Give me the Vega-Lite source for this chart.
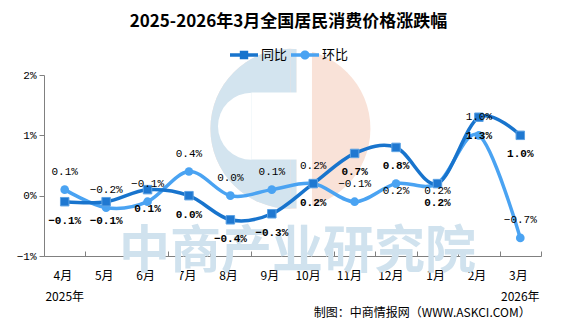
{
  "$schema": "https://vega.github.io/schema/vega-lite/v6.json",
  "width": 497,
  "height": 181,
  "autosize": {"type": "none"},
  "padding": {"left": 44, "top": 75, "right": 35, "bottom": 71},
  "background": "white",
  "title": {
    "text": "2025-2026年3月全国居民消费价格涨跌幅",
    "font": "Noto Sans CJK SC",
    "fontSize": 17,
    "fontWeight": "bold",
    "color": "black",
    "anchor": "middle",
    "offset": 10,
    "dx": -4
  },
  "data": {
    "values": [
      {"月份": "4月", "指标": "同比", "值": -0.001},
      {"月份": "5月", "指标": "同比", "值": -0.001},
      {"月份": "6月", "指标": "同比", "值": 0.001},
      {"月份": "7月", "指标": "同比", "值": 0.0},
      {"月份": "8月", "指标": "同比", "值": -0.004},
      {"月份": "9月", "指标": "同比", "值": -0.003},
      {"月份": "10月", "指标": "同比", "值": 0.002},
      {"月份": "11月", "指标": "同比", "值": 0.007},
      {"月份": "12月", "指标": "同比", "值": 0.008},
      {"月份": "1月", "指标": "同比", "值": 0.002},
      {"月份": "2月", "指标": "同比", "值": 0.013},
      {"月份": "3月", "指标": "同比", "值": 0.010},
      {"月份": "4月", "指标": "环比", "值": 0.001},
      {"月份": "5月", "指标": "环比", "值": -0.002},
      {"月份": "6月", "指标": "环比", "值": -0.001},
      {"月份": "7月", "指标": "环比", "值": 0.004},
      {"月份": "8月", "指标": "环比", "值": 0.0},
      {"月份": "9月", "指标": "环比", "值": 0.001},
      {"月份": "10月", "指标": "环比", "值": 0.002},
      {"月份": "11月", "指标": "环比", "值": -0.001},
      {"月份": "12月", "指标": "环比", "值": 0.002},
      {"月份": "1月", "指标": "环比", "值": 0.002},
      {"月份": "2月", "指标": "环比", "值": 0.010},
      {"月份": "3月", "指标": "环比", "值": -0.007}
    ]
  },
  "layer": [
    {
      "data": {"values": [{"部件": "logo"}]},
      "mark": {"type": "arc", "outerRadius": 80, "innerRadius": 0, "theta": 0, "theta2": 6.2832, "color": "#f9e2d8"},
      "encoding": {"x": {"datum": "9月", "bandPosition": 0.95, "type": "ordinal"}, "y": {"datum": 0.0111, "type": "quantitative"}}
    },
    {
      "data": {"values": [{"部件": "logo"}]},
      "mark": {"type": "arc", "outerRadius": 80, "innerRadius": 0, "theta": 3.1416, "theta2": 6.2832, "color": "#d3e4ef"},
      "encoding": {"x": {"datum": "9月", "bandPosition": 0.95, "type": "ordinal"}, "y": {"datum": 0.0111, "type": "quantitative"}}
    },
    {
      "data": {"values": [{"部件": "logo"}]},
      "mark": {"type": "rect", "color": "#d3e4ef"},
      "encoding": {
        "x": {"datum": "9月", "bandPosition": 0.95, "type": "ordinal"},
        "x2": {"datum": "10月", "bandPosition": 0.1},
        "y": {"datum": 0.0243, "type": "quantitative"},
        "y2": {"datum": -0.0021}
      }
    },
    {
      "data": {"values": [{"部件": "logo"}]},
      "mark": {"type": "rect", "color": "white"},
      "encoding": {
        "x": {"datum": "10月", "bandPosition": 0.1, "type": "ordinal"},
        "x2": {"datum": "10月", "bandPosition": 0.47},
        "y": {"datum": 0.025, "type": "quantitative"},
        "y2": {"datum": -0.003}
      }
    },
    {
      "data": {"values": [{"部件": "logo"}]},
      "mark": {"type": "rect", "color": "white"},
      "encoding": {
        "x": {"datum": "9月", "bandPosition": 0.01, "type": "ordinal"},
        "x2": {"datum": "10月", "bandPosition": 0.12},
        "y": {"datum": 0.0171, "type": "quantitative"},
        "y2": {"datum": 0.0060}
      }
    },
    {
      "data": {"values": [{"部件": "logo"}]},
      "mark": {"type": "arc", "outerRadius": 33.5, "innerRadius": 0, "theta": 3.1416, "theta2": 6.2832, "color": "white"},
      "encoding": {"x": {"datum": "9月", "bandPosition": 0.01, "type": "ordinal"}, "y": {"datum": 0.0115, "type": "quantitative"}}
    },
    {
      "data": {"values": [{"部件": "watermark"}]},
      "mark": {"type": "text", "text": "中商产业研究院", "font": "Noto Sans CJK SC", "fontWeight": "bold", "fontSize": 51, "color": "#d0e2ee", "align": "center", "baseline": "middle"},
      "encoding": {"x": {"datum": "10月", "bandPosition": 0.12, "type": "ordinal"}, "y": {"datum": -0.0095, "type": "quantitative"}}
    },
    {
      "transform": [{"filter": "datum['指标'] === '环比'"}],
      "mark": {"type": "line", "interpolate": "cardinal", "strokeWidth": 3.5, "color": "#4aa3f2"},
      "encoding": {
        "x": {
          "field": "月份",
          "type": "ordinal",
          "title": null,
          "scale": {
            "type": "band",
            "domain": ["4月", "5月", "6月", "7月", "8月", "9月", "10月", "11月", "12月", "1月", "2月", "3月"],
            "paddingInner": 0,
            "paddingOuter": 0
          },
          "axis": {
            "title": null,
            "tickBand": "extent",
            "tickSize": -5,
            "labelPadding": 24,
            "labelOffset": 7,
            "labelAngle": 0,
            "domainColor": "#808080",
            "tickColor": "#808080",
            "labelFont": "Noto Sans CJK SC",
            "labelFontSize": 12,
            "labelColor": "black",
            "grid": false
          }
        },
        "y": {
          "field": "值",
          "type": "quantitative",
          "title": null,
          "scale": {"domain": [-0.01, 0.02], "nice": false, "zero": false},
          "axis": {
            "title": null,
            "values": [-0.01, 0, 0.01, 0.02],
            "format": ".0%",
            "tickSize": 5,
            "labelPadding": 3,
            "domainColor": "#808080",
            "tickColor": "#808080",
            "labelFont": "Liberation Mono",
            "labelFontSize": 11,
            "labelColor": "black",
            "grid": false
          }
        }
      }
    },
    {
      "transform": [{"filter": "datum['指标'] === '同比'"}],
      "mark": {"type": "line", "interpolate": "cardinal", "strokeWidth": 3.5, "color": "#1874cd"},
      "encoding": {"x": {"field": "月份", "type": "ordinal", "title": null}, "y": {"field": "值", "type": "quantitative", "title": null}}
    },
    {
      "transform": [{"filter": "datum['指标'] === '环比'"}],
      "mark": {"type": "point", "shape": "circle", "filled": true, "size": 75, "color": "#4aa3f2", "opacity": 1},
      "encoding": {"x": {"field": "月份", "type": "ordinal", "title": null}, "y": {"field": "值", "type": "quantitative", "title": null}}
    },
    {
      "transform": [{"filter": "datum['指标'] === '同比'"}],
      "mark": {"type": "point", "shape": "square", "filled": true, "size": 72, "fill": "#1f78d1", "stroke": "#5da2e3", "strokeWidth": 1, "opacity": 1},
      "encoding": {"x": {"field": "月份", "type": "ordinal", "title": null}, "y": {"field": "值", "type": "quantitative", "title": null}}
    },
    {
      "transform": [{"filter": "datum['指标'] === '环比' && datum['月份'] !== '12月' && datum['月份'] !== '1月'"}],
      "mark": {"type": "text", "dy": -18, "font": "Liberation Mono", "fontSize": 11, "color": "black"},
      "encoding": {
        "x": {"field": "月份", "type": "ordinal", "title": null},
        "y": {"field": "值", "type": "quantitative", "title": null},
        "text": {"field": "值", "type": "quantitative", "format": ".1%"}
      }
    },
    {
      "transform": [{"filter": "datum['指标'] === '环比' && (datum['月份'] === '12月' || datum['月份'] === '1月')"}],
      "mark": {"type": "text", "dy": 7, "font": "Liberation Mono", "fontSize": 11, "color": "black"},
      "encoding": {
        "x": {"field": "月份", "type": "ordinal", "title": null},
        "y": {"field": "值", "type": "quantitative", "title": null},
        "text": {"field": "值", "type": "quantitative", "format": ".1%"}
      }
    },
    {
      "transform": [{"filter": "datum['指标'] === '同比'"}],
      "mark": {"type": "text", "dy": 19, "font": "Liberation Mono", "fontSize": 11, "fontWeight": "bold", "color": "black"},
      "encoding": {
        "x": {"field": "月份", "type": "ordinal", "title": null},
        "y": {"field": "值", "type": "quantitative", "title": null},
        "text": {"field": "值", "type": "quantitative", "format": ".1%"}
      }
    },
    {
      "data": {"values": [{"月份": "4月", "年份": "2025年"}, {"月份": "3月", "年份": "2026年"}]},
      "mark": {"type": "text", "font": "Noto Sans CJK SC", "fontSize": 12, "color": "black", "align": "center", "baseline": "middle"},
      "encoding": {
        "x": {"field": "月份", "type": "ordinal", "title": null},
        "y": {"datum": -0.0168, "type": "quantitative"},
        "text": {"field": "年份", "type": "nominal"}
      }
    },
    {
      "data": {"values": [{"部件": "credit"}]},
      "mark": {"type": "text", "text": "制图：中商情报网（WWW.ASKCI.COM）", "font": "Noto Sans CJK SC", "fontSize": 12, "color": "black", "align": "right", "baseline": "middle"},
      "encoding": {"x": {"datum": "3月", "bandPosition": 0.75, "type": "ordinal"}, "y": {"datum": -0.0195, "type": "quantitative"}}
    },
    {
      "mark": {"type": "point", "filled": true, "opacity": 0},
      "encoding": {
        "x": {"field": "月份", "type": "ordinal", "title": null},
        "y": {"field": "值", "type": "quantitative", "title": null},
        "color": {
          "field": "指标",
          "type": "nominal",
          "scale": {"domain": ["同比", "环比"], "range": ["#1874cd", "#4aa3f2"]},
          "legend": {"title": null, "orient": "none", "legendX": 186, "legendY": -34, "direction": "horizontal", "symbolSize": 784, "symbolStrokeWidth": 0, "symbolOpacity": 1, "labelFont": "Noto Sans CJK SC", "labelFontSize": 13, "labelColor": "black", "labelOffset": 3, "columnPadding": 3, "padding": 0}
        },
        "shape": {
          "field": "指标",
          "type": "nominal",
          "scale": {
            "domain": ["同比", "环比"],
            "range": [
              "M-1,-0.12L1,-0.12L1,0.12L-1,0.12Z M-0.3,-0.3L0.3,-0.3L0.3,0.3L-0.3,0.3Z",
              "M-1,-0.12L1,-0.12L1,0.12L-1,0.12Z M-0.33,0A0.33,0.33 0 1,1 0.33,0A0.33,0.33 0 1,1 -0.33,0Z"
            ]
          },
          "legend": {"title": null, "orient": "none", "legendX": 186, "legendY": -34, "direction": "horizontal", "symbolSize": 784, "symbolStrokeWidth": 0, "symbolOpacity": 1, "labelFont": "Noto Sans CJK SC", "labelFontSize": 13, "labelColor": "black", "labelOffset": 3, "columnPadding": 3, "padding": 0}
        }
      }
    }
  ],
  "config": {
    "view": {"stroke": null}
  }
}
